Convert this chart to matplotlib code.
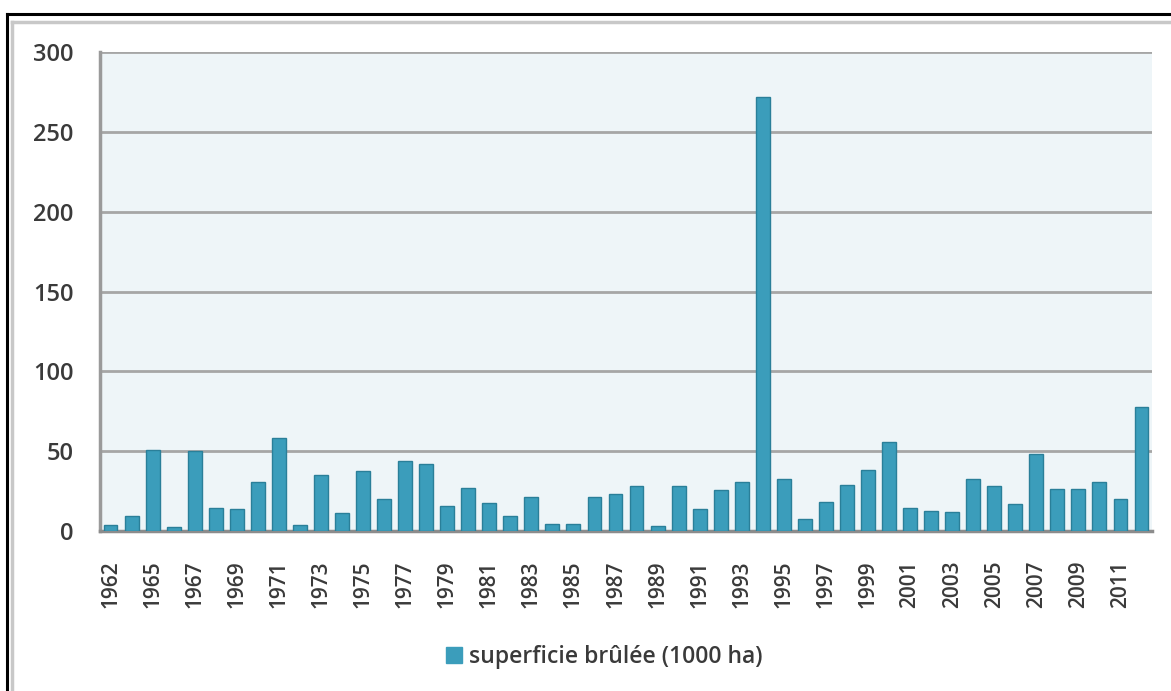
import matplotlib
matplotlib.use("Agg")
import matplotlib.pyplot as plt
from matplotlib.lines import Line2D
from matplotlib.patches import Patch

# Burned area per year, thousands of hectares (1963 absent from the record)
years = [1962, 1964, 1965, 1966, 1967, 1968, 1969, 1970, 1971, 1972,
         1973, 1974, 1975, 1976, 1977, 1978, 1979, 1980, 1981, 1982,
         1983, 1984, 1985, 1986, 1987, 1988, 1989, 1990, 1991, 1992,
         1993, 1994, 1995, 1996, 1997, 1998, 1999, 2000, 2001, 2002,
         2003, 2004, 2005, 2006, 2007, 2008, 2009, 2010, 2011, 2012]
burned = [4, 9.5, 51, 2.5, 50, 14.5, 13.5, 30.5, 58, 4,
          35, 11, 37.5, 20, 44, 42, 15.5, 27, 17.5, 9.5,
          21.5, 4.5, 4.5, 21.5, 23.5, 28, 3, 28, 13.5, 25.5,
          30.5, 272, 32.5, 7.5, 18, 29, 38.5, 56, 14.5, 12.5,
          12, 32.5, 28.5, 17, 48, 26.5, 26.5, 31, 20, 77.5]
series_label = "superficie brûlée (1000 ha)"
y_ticks = [0, 50, 100, 150, 200, 250, 300]

plt.rcParams["font.family"] = ["Open Sans", "DejaVu Sans"]
plt.rcParams["font.weight"] = "semibold"

fig = plt.figure(figsize=(11.71, 6.91), dpi=100)
ax = fig.add_axes([0.0854, 0.2315, 0.8984, 0.6932])

bar_color = "#3b9dbb"
edge_color = "#2a7f99"
positions = list(range(len(years)))
ax.bar(positions, burned, width=0.66, color=bar_color, edgecolor=edge_color,
       linewidth=1.0, zorder=3)

ax.set_facecolor("#eef5f8")
ax.set_xlim(-0.5, len(years) - 0.5)
ax.set_ylim(0, 300)
ax.set_yticks(y_ticks)
ax.yaxis.grid(True, color="#a6a6a6", linewidth=2.0, zorder=1)
ax.set_axisbelow(True)

# label every second bar
tick_pos = positions[::2]
ax.set_xticks(tick_pos)
ax.set_xticklabels([str(years[i]) for i in tick_pos], rotation=90,
                   fontsize=15, color="#3a3a3a", fontweight="semibold")
ax.tick_params(axis="x", length=0, pad=21)
ax.tick_params(axis="y", length=0, pad=19, labelsize=17, labelcolor="#3a3a3a")
for lbl in ax.get_yticklabels():
    lbl.set_fontweight("semibold")

for side in ("top", "right"):
    ax.spines[side].set_visible(False)
ax.spines["left"].set_color("#9a9a9a")
ax.spines["left"].set_linewidth(2.5)
ax.spines["bottom"].set_color("#8c8c8c")
ax.spines["bottom"].set_linewidth(2.5)

handle = Patch(facecolor=bar_color, edgecolor=bar_color)
fig.legend([handle], [series_label], loc="center", bbox_to_anchor=(0.516, 0.049),
           frameon=False, prop={"size": 16.5, "weight": "semibold"},
           handlelength=0.7, handleheight=0.7, handletextpad=0.3,
           labelcolor="#3a3a3a")

# outer frame: black rule on top and left, grey inner rule
W, H = 1171, 691
fig.add_artist(Line2D([7 / W, 1], [1 - 14 / H, 1 - 14 / H], color="black",
                      linewidth=2.2, transform=fig.transFigure))
fig.add_artist(Line2D([7 / W, 7 / W], [0, 1 - 14 / H], color="black",
                      linewidth=2.2, transform=fig.transFigure))
fig.add_artist(Line2D([12 / W, 1], [1 - 22 / H, 1 - 22 / H], color="#c8c8c8",
                      linewidth=2.5, transform=fig.transFigure))
fig.add_artist(Line2D([12 / W, 12 / W], [0, 1 - 22 / H], color="#c8c8c8",
                      linewidth=2.5, transform=fig.transFigure))

fig.savefig("out.png", dpi=100)
